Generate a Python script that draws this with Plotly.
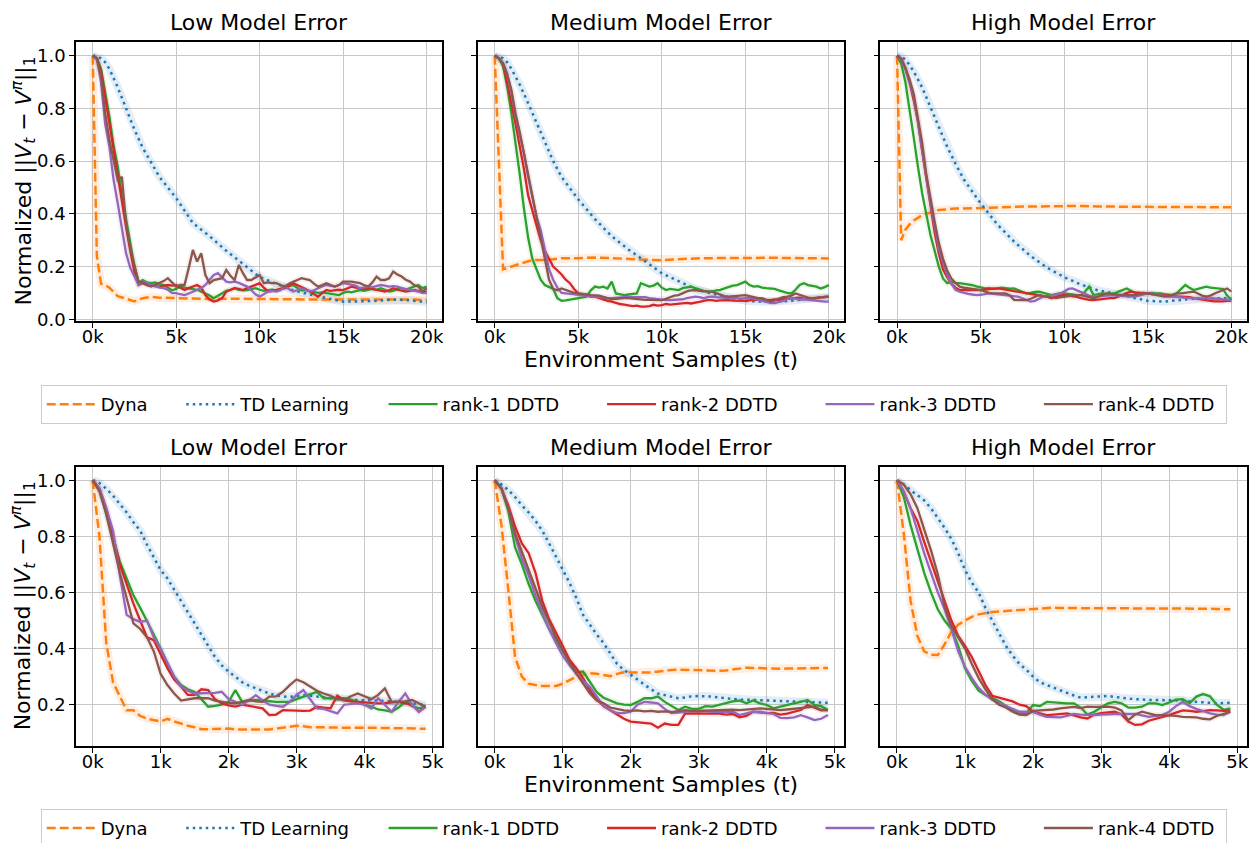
import plotly.graph_objects as go

FONT = "DejaVu Sans"
W, H = 1253, 843

# ---------------- x positions ----------------
X_TOP = list(range(0, 20001, 250))          # DDTD curves, 20k-sample runs
X_TOP_S = [0, 250, 500, 750, 1000, 1500, 2000, 2500, 3000, 3500, 4000, 5000, 6000, 7000,
           8000, 9000, 10000, 11000, 12000, 13000, 14000, 15000, 16000, 17000, 18000, 19000, 20000]
X_BOT = list(range(0, 4901, 100))           # 5k-sample runs

TOP_TICKS = [0, 5000, 10000, 15000, 20000]
TOP_TICKTEXT = ["0k", "5k", "10k", "15k", "20k"]
BOT_TICKS = [0, 1000, 2000, 3000, 4000, 5000]
BOT_TICKTEXT = ["0k", "1k", "2k", "3k", "4k", "5k"]
Y_TICKS = [0.0, 0.2, 0.4, 0.6, 0.8, 1.0]

TITLES = ["Low Model Error", "Medium Model Error", "High Model Error"]
METHODS = ["Dyna", "TD Learning", "rank-1 DDTD", "rank-2 DDTD", "rank-3 DDTD", "rank-4 DDTD"]

# ---------------- top row (20k samples) ----------------
DYNA_LOW_20K = [1.0, 0.24, 0.135, 0.13, 0.12, 0.088, 0.078, 0.068, 0.08, 0.085, 0.082, 0.08, 0.08, 0.077,
                0.078, 0.078, 0.076, 0.077, 0.076, 0.075, 0.075, 0.074, 0.074, 0.075, 0.076, 0.075, 0.073]
TD_LOW_20K = [1.0, 0.998, 0.99, 0.975, 0.95, 0.88, 0.80, 0.72, 0.65, 0.595, 0.54, 0.46, 0.365, 0.315,
              0.26, 0.21, 0.16, 0.135, 0.11, 0.094, 0.08, 0.067, 0.068, 0.07, 0.075, 0.072, 0.065]
R1_LOW_20K = [1.0, 0.99, 0.95, 0.86, 0.77, 0.66, 0.58, 0.47,
              0.38, 0.28, 0.2, 0.14, 0.149, 0.14, 0.137, 0.14,
              0.133, 0.13, 0.12, 0.11, 0.115, 0.125, 0.12, 0.118,
              0.115, 0.112, 0.105, 0.099, 0.09, 0.08, 0.09, 0.1,
              0.108, 0.112, 0.118, 0.112, 0.11, 0.111, 0.115, 0.118,
              0.112, 0.108, 0.111, 0.112, 0.11, 0.115, 0.124, 0.128,
              0.13, 0.12, 0.11, 0.111, 0.108, 0.105, 0.1, 0.102,
              0.099, 0.097, 0.095, 0.092, 0.1, 0.105, 0.102, 0.108,
              0.111, 0.108, 0.111, 0.115, 0.112, 0.118, 0.112, 0.105,
              0.108, 0.115, 0.118, 0.112, 0.118, 0.125, 0.13, 0.118,
              0.124]
R2_LOW_20K = [1.0, 0.99, 0.94, 0.84, 0.75, 0.64, 0.55, 0.45,
              0.35, 0.26, 0.18, 0.13, 0.137, 0.13, 0.128, 0.125,
              0.124, 0.128, 0.13, 0.128, 0.13, 0.12, 0.111, 0.118,
              0.125, 0.13, 0.12, 0.092, 0.075, 0.067, 0.072, 0.08,
              0.105, 0.112, 0.118, 0.115, 0.111, 0.118, 0.124, 0.13,
              0.137, 0.12, 0.105, 0.108, 0.111, 0.115, 0.118, 0.125,
              0.137, 0.13, 0.124, 0.115, 0.105, 0.095, 0.086, 0.1,
              0.111, 0.108, 0.111, 0.112, 0.111, 0.118, 0.124, 0.12,
              0.118, 0.115, 0.118, 0.115, 0.111, 0.108, 0.105, 0.11,
              0.118, 0.112, 0.108, 0.105, 0.108, 0.111, 0.108, 0.105,
              0.105]
R3_LOW_20K = [1.0, 0.985, 0.9, 0.74, 0.655, 0.53, 0.44, 0.34,
              0.25, 0.195, 0.16, 0.13, 0.143, 0.138, 0.13, 0.125,
              0.12, 0.118, 0.112, 0.1, 0.099, 0.095, 0.092, 0.098,
              0.105, 0.11, 0.118, 0.13, 0.15, 0.168, 0.175, 0.16,
              0.143, 0.14, 0.143, 0.138, 0.13, 0.124, 0.11, 0.095,
              0.086, 0.095, 0.105, 0.108, 0.105, 0.11, 0.124, 0.115,
              0.105, 0.11, 0.118, 0.112, 0.105, 0.11, 0.118, 0.125,
              0.13, 0.127, 0.124, 0.13, 0.137, 0.134, 0.13, 0.128,
              0.118, 0.12, 0.124, 0.122, 0.125, 0.13, 0.128, 0.124,
              0.126, 0.124, 0.118, 0.115, 0.111, 0.108, 0.105, 0.1,
              0.099]
R4_LOW_20K = [1.0, 0.99, 0.92, 0.78, 0.68, 0.6, 0.528, 0.54,
              0.36, 0.27, 0.2, 0.14, 0.14, 0.13, 0.124, 0.13,
              0.137, 0.145, 0.156, 0.14, 0.124, 0.13, 0.13, 0.194,
              0.263, 0.219, 0.25, 0.168, 0.137, 0.149, 0.152, 0.156,
              0.187, 0.165, 0.149, 0.206, 0.175, 0.149, 0.149, 0.16,
              0.168, 0.137, 0.14, 0.137, 0.137, 0.13, 0.124, 0.135,
              0.143, 0.15, 0.156, 0.152, 0.149, 0.135, 0.124, 0.13,
              0.137, 0.13, 0.124, 0.13, 0.143, 0.143, 0.143, 0.14,
              0.137, 0.13, 0.124, 0.14, 0.162, 0.149, 0.149, 0.155,
              0.181, 0.17, 0.162, 0.15, 0.143, 0.13, 0.124, 0.105,
              0.118]

DYNA_MED_20K = [1.0, 0.58, 0.19, 0.195, 0.2, 0.21, 0.22, 0.225, 0.225, 0.228, 0.232, 0.232, 0.234, 0.232,
                0.228, 0.226, 0.224, 0.228, 0.231, 0.232, 0.233, 0.234, 0.233, 0.233, 0.232, 0.231, 0.231]
TD_MED_20K = [1.0, 0.998, 0.99, 0.975, 0.95, 0.89, 0.82, 0.745, 0.67, 0.6, 0.54, 0.455, 0.38, 0.315,
              0.265, 0.22, 0.175, 0.145, 0.115, 0.097, 0.083, 0.07, 0.067, 0.067, 0.072, 0.08, 0.085]
R1_MED_20K = [1.0, 0.99, 0.96, 0.88, 0.78, 0.67, 0.55, 0.42,
              0.31, 0.23, 0.187, 0.15, 0.13, 0.122, 0.115, 0.08,
              0.07, 0.072, 0.075, 0.078, 0.08, 0.082, 0.086, 0.11,
              0.124, 0.12, 0.124, 0.117, 0.143, 0.098, 0.095, 0.092,
              0.094, 0.096, 0.098, 0.137, 0.13, 0.124, 0.128, 0.137,
              0.12, 0.111, 0.115, 0.112, 0.111, 0.118, 0.12, 0.124,
              0.118, 0.112, 0.108, 0.106, 0.105, 0.11, 0.112, 0.117,
              0.122, 0.128, 0.13, 0.138, 0.143, 0.13, 0.124, 0.126,
              0.12, 0.118, 0.117, 0.115, 0.11, 0.105, 0.1, 0.098,
              0.112, 0.13, 0.137, 0.13, 0.128, 0.124, 0.117, 0.122,
              0.13]
R2_MED_20K = [1.0, 0.99, 0.97, 0.9, 0.82, 0.74, 0.66, 0.57,
              0.47, 0.41, 0.35, 0.3, 0.26, 0.23, 0.2, 0.185,
              0.17, 0.15, 0.137, 0.115, 0.098, 0.095, 0.09, 0.086,
              0.086, 0.08, 0.075, 0.07, 0.067, 0.062, 0.058, 0.056,
              0.054, 0.05, 0.052, 0.048, 0.048, 0.05, 0.055, 0.052,
              0.054, 0.058, 0.056, 0.058, 0.058, 0.06, 0.062, 0.06,
              0.062, 0.066, 0.07, 0.073, 0.073, 0.07, 0.072, 0.073,
              0.073, 0.071, 0.07, 0.07, 0.07, 0.072, 0.073, 0.075,
              0.073, 0.072, 0.073, 0.075, 0.073, 0.076, 0.078, 0.08,
              0.08, 0.082, 0.078, 0.076, 0.076, 0.08, 0.083, 0.085,
              0.086]
R3_MED_20K = [1.0, 0.99, 0.97, 0.93, 0.86, 0.77, 0.7, 0.63,
              0.54, 0.47, 0.39, 0.34, 0.26, 0.19, 0.15, 0.12,
              0.1, 0.098, 0.096, 0.094, 0.092, 0.09, 0.088, 0.086,
              0.085, 0.084, 0.082, 0.08, 0.08, 0.082, 0.083, 0.084,
              0.084, 0.085, 0.084, 0.084, 0.084, 0.08, 0.078, 0.075,
              0.074, 0.073, 0.073, 0.074, 0.073, 0.076, 0.08, 0.084,
              0.086, 0.084, 0.08, 0.084, 0.086, 0.084, 0.082, 0.08,
              0.08, 0.082, 0.08, 0.078, 0.08, 0.082, 0.078, 0.073,
              0.07, 0.066, 0.062, 0.061, 0.065, 0.07, 0.076, 0.08,
              0.078, 0.075, 0.076, 0.074, 0.072, 0.07, 0.068, 0.067,
              0.067]
R4_MED_20K = [1.0, 0.99, 0.97, 0.93, 0.87, 0.78, 0.71, 0.63,
              0.54, 0.46, 0.38, 0.3, 0.22, 0.15, 0.115, 0.11,
              0.117, 0.112, 0.105, 0.1, 0.098, 0.095, 0.094, 0.092,
              0.092, 0.09, 0.085, 0.08, 0.076, 0.078, 0.08, 0.08,
              0.08, 0.078, 0.076, 0.075, 0.074, 0.074, 0.073, 0.073,
              0.073, 0.078, 0.085, 0.09, 0.092, 0.1, 0.106, 0.11,
              0.111, 0.108, 0.106, 0.105, 0.105, 0.1, 0.094, 0.088,
              0.086, 0.088, 0.09, 0.092, 0.092, 0.088, 0.084, 0.08,
              0.08, 0.074, 0.067, 0.072, 0.078, 0.084, 0.086, 0.09,
              0.098, 0.092, 0.086, 0.082, 0.08, 0.082, 0.084, 0.086,
              0.086]

DYNA_HIGH_20K = [1.0, 0.3, 0.34, 0.36, 0.375, 0.395, 0.405, 0.415, 0.417, 0.42, 0.42, 0.421, 0.424, 0.427,
                 0.428, 0.43, 0.43, 0.43, 0.428, 0.427, 0.427, 0.427, 0.426, 0.426, 0.426, 0.425, 0.425]
TD_HIGH_20K = [1.0, 0.998, 0.985, 0.965, 0.94, 0.88, 0.805, 0.73, 0.655, 0.59, 0.53, 0.44, 0.36, 0.295,
               0.24, 0.195, 0.16, 0.132, 0.11, 0.098, 0.085, 0.07, 0.067, 0.073, 0.08, 0.08, 0.08]
R1_HIGH_20K = [1.0, 0.97, 0.9, 0.8, 0.69, 0.58, 0.48, 0.4,
               0.32, 0.26, 0.2, 0.155, 0.137, 0.143, 0.138, 0.137,
               0.135, 0.132, 0.13, 0.125, 0.12, 0.117, 0.118, 0.116,
               0.117, 0.12, 0.118, 0.116, 0.117, 0.11, 0.104, 0.098,
               0.1, 0.104, 0.105, 0.1, 0.095, 0.092, 0.095, 0.098,
               0.098, 0.095, 0.094, 0.092, 0.092, 0.105, 0.124, 0.092,
               0.095, 0.098, 0.096, 0.098, 0.098, 0.105, 0.112, 0.117,
               0.108, 0.1, 0.098, 0.1, 0.098, 0.1, 0.098, 0.098,
               0.095, 0.094, 0.092, 0.1, 0.115, 0.13, 0.12, 0.111,
               0.115, 0.12, 0.124, 0.12, 0.118, 0.117, 0.115, 0.09,
               0.073]
R2_HIGH_20K = [1.0, 0.985, 0.95, 0.9, 0.83, 0.75, 0.64, 0.53,
               0.42, 0.33, 0.25, 0.19, 0.16, 0.135, 0.12, 0.111,
               0.112, 0.11, 0.112, 0.111, 0.111, 0.113, 0.115, 0.116,
               0.117, 0.115, 0.112, 0.11, 0.108, 0.105, 0.1, 0.098,
               0.096, 0.094, 0.092, 0.088, 0.085, 0.08, 0.085, 0.09,
               0.092, 0.09, 0.088, 0.085, 0.08, 0.076, 0.074, 0.073,
               0.075, 0.078, 0.08, 0.08, 0.08, 0.085, 0.092, 0.1,
               0.105, 0.102, 0.1, 0.098, 0.098, 0.096, 0.095, 0.094,
               0.092, 0.09, 0.088, 0.087, 0.086, 0.086, 0.084, 0.08,
               0.077, 0.075, 0.073, 0.07, 0.068, 0.067, 0.068, 0.07,
               0.07]
R3_HIGH_20K = [1.0, 0.985, 0.95, 0.9, 0.845, 0.75, 0.64, 0.54,
               0.44, 0.355, 0.27, 0.215, 0.17, 0.135, 0.112, 0.105,
               0.1, 0.096, 0.094, 0.092, 0.093, 0.095, 0.098, 0.096,
               0.094, 0.092, 0.092, 0.09, 0.088, 0.086, 0.08, 0.072,
               0.067, 0.07, 0.078, 0.086, 0.088, 0.09, 0.095, 0.098,
               0.105, 0.115, 0.117, 0.11, 0.105, 0.098, 0.09, 0.086,
               0.086, 0.088, 0.09, 0.092, 0.092, 0.09, 0.088, 0.086,
               0.086, 0.086, 0.09, 0.094, 0.098, 0.098, 0.095, 0.09,
               0.088, 0.086, 0.086, 0.084, 0.082, 0.08, 0.08, 0.08,
               0.08, 0.08, 0.08, 0.08, 0.08, 0.078, 0.076, 0.074,
               0.073]
R4_HIGH_20K = [1.0, 0.99, 0.955, 0.91, 0.855, 0.77, 0.67, 0.55,
               0.455, 0.37, 0.29, 0.23, 0.185, 0.155, 0.138, 0.124,
               0.12, 0.118, 0.115, 0.112, 0.111, 0.106, 0.1, 0.098,
               0.098, 0.098, 0.098, 0.09, 0.074, 0.073, 0.073, 0.073,
               0.078, 0.085, 0.092, 0.088, 0.085, 0.082, 0.08, 0.083,
               0.086, 0.088, 0.09, 0.092, 0.092, 0.088, 0.084, 0.08,
               0.085, 0.09, 0.098, 0.096, 0.094, 0.092, 0.092, 0.092,
               0.092, 0.092, 0.095, 0.098, 0.098, 0.095, 0.092, 0.09,
               0.086, 0.088, 0.092, 0.098, 0.098, 0.1, 0.103, 0.105,
               0.098, 0.09, 0.086, 0.09, 0.098, 0.105, 0.112, 0.117,
               0.105]

# ---------------- bottom row (5k samples) ----------------
DYNA_LOW_5K = [1.0, 0.8, 0.42, 0.28, 0.23, 0.18, 0.18, 0.16, 0.15, 0.145,
               0.14, 0.15, 0.14, 0.133, 0.125, 0.12, 0.113, 0.113, 0.113, 0.115,
               0.115, 0.112, 0.112, 0.11, 0.11, 0.11, 0.112, 0.115, 0.118, 0.12,
               0.125, 0.123, 0.12, 0.12, 0.119, 0.118, 0.118, 0.118, 0.118, 0.117,
               0.118, 0.118, 0.117, 0.117, 0.116, 0.116, 0.116, 0.115, 0.115, 0.114]
TD_LOW_5K = [1.0, 0.99, 0.97, 0.945, 0.915, 0.885, 0.85, 0.82, 0.77, 0.725,
             0.68, 0.65, 0.61, 0.57, 0.53, 0.49, 0.445, 0.405, 0.37, 0.34,
             0.318, 0.3, 0.28, 0.268, 0.258, 0.25, 0.24, 0.233, 0.229, 0.228,
             0.23, 0.234, 0.232, 0.229, 0.226, 0.222, 0.219, 0.217, 0.217, 0.217,
             0.217, 0.217, 0.215, 0.213, 0.212, 0.21, 0.207, 0.205, 0.202, 0.2]
R1_LOW_5K = [1.0, 0.97, 0.88, 0.79, 0.71, 0.65, 0.59, 0.545, 0.5, 0.45,
             0.4, 0.345, 0.3, 0.27, 0.255, 0.245, 0.22, 0.193, 0.196, 0.2,
             0.21, 0.252, 0.21, 0.213, 0.217, 0.215, 0.212, 0.21, 0.21, 0.21,
             0.22, 0.229, 0.238, 0.246, 0.223, 0.222, 0.223, 0.223, 0.218, 0.21,
             0.2, 0.193, 0.183, 0.18, 0.175, 0.19, 0.21, 0.195, 0.187, 0.193]
R2_LOW_5K = [1.0, 0.97, 0.9, 0.8, 0.7, 0.63, 0.56, 0.5, 0.44, 0.43,
             0.38, 0.33, 0.29, 0.265, 0.235, 0.235, 0.255, 0.252, 0.22, 0.205,
             0.198, 0.193, 0.2, 0.195, 0.19, 0.187, 0.163, 0.165, 0.181, 0.18,
             0.178, 0.178, 0.179, 0.193, 0.19, 0.187, 0.232, 0.215, 0.212, 0.21,
             0.208, 0.207, 0.205, 0.206, 0.208, 0.21, 0.205, 0.2, 0.175, 0.193]
R3_LOW_5K = [1.0, 0.97, 0.9, 0.82, 0.66, 0.52, 0.505, 0.495, 0.5, 0.44,
             0.4, 0.35, 0.3, 0.265, 0.25, 0.24, 0.24, 0.24, 0.242, 0.246,
             0.22, 0.21, 0.2, 0.215, 0.234, 0.215, 0.2, 0.196, 0.193, 0.21,
             0.235, 0.252, 0.22, 0.187, 0.185, 0.178, 0.169, 0.2, 0.203, 0.205,
             0.2, 0.187, 0.223, 0.2, 0.175, 0.21, 0.24, 0.2, 0.175, 0.193]
R4_LOW_5K = [1.0, 0.96, 0.88, 0.77, 0.67, 0.58, 0.49, 0.47, 0.44, 0.39,
             0.31, 0.27, 0.24, 0.215, 0.218, 0.223, 0.223, 0.223, 0.215, 0.21,
             0.207, 0.205, 0.21, 0.217, 0.212, 0.21, 0.229, 0.23, 0.246, 0.27,
             0.29, 0.28, 0.265, 0.25, 0.24, 0.232, 0.22, 0.217, 0.23, 0.24,
             0.23, 0.22, 0.235, 0.258, 0.21, 0.21, 0.212, 0.217, 0.205, 0.193]

DYNA_MED_5K = [1.0, 0.84, 0.61, 0.37, 0.3, 0.275, 0.27, 0.267, 0.267, 0.267,
               0.275, 0.288, 0.3, 0.308, 0.312, 0.31, 0.306, 0.302, 0.31, 0.316,
               0.315, 0.316, 0.315, 0.315, 0.318, 0.322, 0.324, 0.325, 0.324, 0.324,
               0.324, 0.323, 0.321, 0.321, 0.322, 0.326, 0.33, 0.332, 0.331, 0.33,
               0.329, 0.329, 0.328, 0.329, 0.329, 0.329, 0.33, 0.33, 0.33, 0.331]
TD_MED_5K = [1.0, 0.985, 0.965, 0.94, 0.91, 0.885, 0.855, 0.82, 0.775, 0.73,
             0.68, 0.635, 0.58, 0.52, 0.485, 0.45, 0.42, 0.38, 0.345, 0.324,
             0.306, 0.29, 0.27, 0.255, 0.24, 0.235, 0.228, 0.223, 0.226, 0.23,
             0.231, 0.231, 0.229, 0.226, 0.223, 0.22, 0.218, 0.218, 0.217, 0.217,
             0.216, 0.215, 0.214, 0.213, 0.212, 0.21, 0.21, 0.209, 0.208, 0.207]
R1_MED_5K = [1.0, 0.97, 0.89, 0.76, 0.7, 0.63, 0.57, 0.52, 0.47, 0.43,
             0.39, 0.35, 0.315, 0.318, 0.28, 0.245, 0.225, 0.215, 0.205, 0.2,
             0.199, 0.21, 0.223, 0.223, 0.229, 0.21, 0.195, 0.181, 0.193, 0.185,
             0.185, 0.195, 0.193, 0.2, 0.205, 0.212, 0.215, 0.205, 0.215, 0.205,
             0.199, 0.187, 0.193, 0.2, 0.205, 0.21, 0.217, 0.199, 0.195, 0.181]
R2_MED_5K = [1.0, 0.97, 0.91, 0.835, 0.775, 0.74, 0.67, 0.57, 0.505, 0.46,
             0.41, 0.36, 0.33, 0.295, 0.252, 0.22, 0.195, 0.18, 0.165, 0.15,
             0.14, 0.137, 0.135, 0.133, 0.118, 0.133, 0.128, 0.128, 0.169, 0.169,
             0.168, 0.169, 0.169, 0.168, 0.165, 0.167, 0.155, 0.16, 0.175, 0.172,
             0.17, 0.171, 0.165, 0.168, 0.175, 0.181, 0.199, 0.19, 0.18, 0.181]
R3_MED_5K = [1.0, 0.97, 0.9, 0.8, 0.72, 0.66, 0.59, 0.53, 0.47, 0.42,
             0.375, 0.34, 0.31, 0.285, 0.264, 0.23, 0.195, 0.18, 0.17, 0.17,
             0.175, 0.2, 0.21, 0.208, 0.205, 0.185, 0.17, 0.172, 0.175, 0.178,
             0.18, 0.178, 0.175, 0.175, 0.175, 0.175, 0.163, 0.17, 0.175, 0.175,
             0.17, 0.167, 0.153, 0.152, 0.155, 0.163, 0.155, 0.145, 0.15, 0.163]
R4_MED_5K = [1.0, 0.97, 0.9, 0.81, 0.745, 0.68, 0.61, 0.55, 0.495, 0.44,
             0.395, 0.35, 0.312, 0.275, 0.24, 0.215, 0.205, 0.19, 0.185, 0.18,
             0.178, 0.18, 0.176, 0.178, 0.175, 0.176, 0.174, 0.178, 0.181, 0.178,
             0.176, 0.179, 0.18, 0.18, 0.181, 0.182, 0.181, 0.183, 0.186, 0.187,
             0.185, 0.183, 0.181, 0.183, 0.185, 0.187, 0.19, 0.193, 0.182, 0.181]

DYNA_HIGH_5K = [1.0, 0.81, 0.57, 0.445, 0.39, 0.378, 0.377, 0.415, 0.46, 0.485,
                0.5, 0.513, 0.522, 0.527, 0.53, 0.532, 0.534, 0.536, 0.537, 0.539,
                0.54, 0.542, 0.546, 0.546, 0.545, 0.544, 0.544, 0.544, 0.544, 0.544,
                0.544, 0.544, 0.544, 0.544, 0.544, 0.544, 0.544, 0.544, 0.544, 0.544,
                0.544, 0.543, 0.543, 0.543, 0.542, 0.542, 0.542, 0.541, 0.541, 0.54]
TD_HIGH_5K = [1.0, 0.985, 0.965, 0.945, 0.928, 0.9, 0.865, 0.83, 0.79, 0.74,
              0.68, 0.635, 0.6, 0.545, 0.5, 0.455, 0.41, 0.375, 0.345, 0.325,
              0.3, 0.28, 0.27, 0.26, 0.25, 0.242, 0.233, 0.225, 0.227, 0.229,
              0.23, 0.231, 0.228, 0.224, 0.222, 0.22, 0.218, 0.217, 0.217, 0.217,
              0.217, 0.217, 0.215, 0.212, 0.21, 0.207, 0.205, 0.205, 0.206, 0.207]
R1_HIGH_5K = [1.0, 0.94, 0.84, 0.755, 0.67, 0.6, 0.54, 0.5, 0.47, 0.41,
              0.33, 0.285, 0.25, 0.235, 0.225, 0.212, 0.195, 0.18, 0.17, 0.17,
              0.199, 0.195, 0.21, 0.208, 0.205, 0.205, 0.205, 0.19, 0.165, 0.175,
              0.19, 0.205, 0.21, 0.205, 0.19, 0.19, 0.193, 0.205, 0.205, 0.199,
              0.208, 0.218, 0.22, 0.205, 0.229, 0.238, 0.23, 0.2, 0.182, 0.187]
R2_HIGH_5K = [1.0, 0.96, 0.9, 0.855, 0.78, 0.71, 0.645, 0.57, 0.5, 0.445,
              0.41, 0.37, 0.32, 0.27, 0.232, 0.225, 0.22, 0.212, 0.2, 0.195,
              0.175, 0.17, 0.163, 0.165, 0.168, 0.169, 0.162, 0.155, 0.151, 0.165,
              0.17, 0.172, 0.175, 0.165, 0.14, 0.128, 0.13, 0.143, 0.15, 0.155,
              0.163, 0.172, 0.18, 0.178, 0.175, 0.177, 0.181, 0.18, 0.178, 0.179]
R3_HIGH_5K = [1.0, 0.96, 0.9, 0.82, 0.74, 0.67, 0.6, 0.54, 0.47, 0.39,
              0.335, 0.295, 0.26, 0.235, 0.218, 0.207, 0.195, 0.185, 0.175, 0.175,
              0.174, 0.165, 0.157, 0.156, 0.155, 0.16, 0.167, 0.165, 0.163, 0.163,
              0.165, 0.167, 0.167, 0.167, 0.167, 0.167, 0.162, 0.157, 0.16, 0.163,
              0.175, 0.195, 0.21, 0.195, 0.185, 0.177, 0.169, 0.165, 0.163, 0.175]
R4_HIGH_5K = [1.0, 0.985, 0.95, 0.9, 0.825, 0.75, 0.665, 0.55, 0.48, 0.44,
              0.4, 0.345, 0.295, 0.255, 0.22, 0.2, 0.19, 0.175, 0.165, 0.163,
              0.178, 0.18, 0.181, 0.183, 0.187, 0.19, 0.192, 0.188, 0.193, 0.192,
              0.193, 0.193, 0.19, 0.18, 0.145, 0.165, 0.175, 0.17, 0.163, 0.163,
              0.162, 0.16, 0.157, 0.156, 0.155, 0.15, 0.148, 0.16, 0.168, 0.175]

# ---------------- styles ----------------
COLORS = {"Dyna": "#ff7f0e", "TD Learning": "#1f77b4", "rank-1 DDTD": "#2ca02c",
          "rank-2 DDTD": "#d62728", "rank-3 DDTD": "#9467bd", "rank-4 DDTD": "#8c564b"}
DASHES = {"Dyna": "9px,4px", "TD Learning": "2.5px,4px"}
# trailing spacing in legend labels (mimics matplotlib column widths)
NBSP = "\u00a0"
LEGEND_PAD = {"Dyna": NBSP * 5, "TD Learning": NBSP * 5, "rank-1 DDTD": NBSP * 6 + "\u2009",
              "rank-2 DDTD": NBSP * 6 + "\u2009", "rank-3 DDTD": NBSP * 6 + "\u2009",
              "rank-4 DDTD": NBSP * 1}


def rgba(hexc, a):
    h = hexc.lstrip("#")
    return "rgba(%d,%d,%d,%.3f)" % (int(h[0:2], 16), int(h[2:4], 16), int(h[4:6], 16), a)


TOP_PANELS = [
    [DYNA_LOW_20K, TD_LOW_20K, R1_LOW_20K, R2_LOW_20K, R3_LOW_20K, R4_LOW_20K],
    [DYNA_MED_20K, TD_MED_20K, R1_MED_20K, R2_MED_20K, R3_MED_20K, R4_MED_20K],
    [DYNA_HIGH_20K, TD_HIGH_20K, R1_HIGH_20K, R2_HIGH_20K, R3_HIGH_20K, R4_HIGH_20K],
]
BOT_PANELS = [
    [DYNA_LOW_5K, TD_LOW_5K, R1_LOW_5K, R2_LOW_5K, R3_LOW_5K, R4_LOW_5K],
    [DYNA_MED_5K, TD_MED_5K, R1_MED_5K, R2_MED_5K, R3_MED_5K, R4_MED_5K],
    [DYNA_HIGH_5K, TD_HIGH_5K, R1_HIGH_5K, R2_HIGH_5K, R3_HIGH_5K, R4_HIGH_5K],
]

# layout geometry (pixels)
XD_PX = [(76, 442), (478, 844.3), (880.3, 1246.7)]
YD_TOP_PX = (42, 321)
YD_BOT_PX = (467, 745.7)

fig = go.Figure()


def add_panel(idx, series, xs_main, xs_smooth, legend_name, show_legend):
    ax = "" if idx == 1 else str(idx)
    xref, yref = "x" + ax, "y" + ax
    # translucent halos (spread bands) first
    for m, ys in zip(METHODS, series):
        xs = xs_smooth if (m in ("Dyna", "TD Learning") and xs_smooth is not None) else xs_main
        big = m in ("Dyna", "TD Learning")
        fig.add_trace(go.Scatter(
            x=xs[:len(ys)], y=ys, mode="lines", xaxis=xref, yaxis=yref,
            line=dict(color=rgba(COLORS[m], 0.13 if big else 0.08), width=8 if big else 6),
            showlegend=False, hoverinfo="skip"))
    for m, ys in zip(METHODS, series):
        xs = xs_smooth if (m in ("Dyna", "TD Learning") and xs_smooth is not None) else xs_main
        fig.add_trace(go.Scatter(
            x=xs[:len(ys)], y=ys, mode="lines", xaxis=xref, yaxis=yref, name=m + LEGEND_PAD[m],
            line=dict(color=COLORS[m], width=2.5 if m in DASHES else 2.3, dash=DASHES.get(m, "solid")),
            legend=legend_name, showlegend=show_legend))


for c in range(3):
    add_panel(c + 1, TOP_PANELS[c], X_TOP, X_TOP_S, "legend", c == 0)
for c in range(3):
    add_panel(c + 4, BOT_PANELS[c], X_BOT, None, "legend2", c == 0)

axis_common = dict(showline=True, linecolor="black", linewidth=1.6, mirror=True,
                   ticks="outside", ticklen=5, tickwidth=1.2, tickcolor="black",
                   showgrid=True, gridcolor="#c8c8c8", gridwidth=1, zeroline=False,
                   tickfont=dict(family=FONT, size=18, color="black"))

layout = dict(width=W, height=H, margin=dict(l=0, r=0, t=0, b=0, autoexpand=False),
              paper_bgcolor="white", plot_bgcolor="white",
              font=dict(family=FONT, size=18, color="black"))

for i in range(6):
    ax = "" if i == 0 else str(i + 1)
    col = i % 3
    top = i < 3
    x0, x1 = XD_PX[col]
    ypx = YD_TOP_PX if top else YD_BOT_PX
    layout["xaxis" + ax] = dict(axis_common, domain=[x0 / W, x1 / W], anchor="y" + ax,
                                range=[-1000, 20920] if top else [-245, 5140],
                                tickvals=TOP_TICKS if top else BOT_TICKS,
                                ticktext=TOP_TICKTEXT if top else BOT_TICKTEXT,
                                ticklabelstandoff=-6)
    layout["yaxis" + ax] = dict(axis_common, domain=[1 - ypx[1] / H, 1 - ypx[0] / H], anchor="x" + ax,
                                range=[-0.0065, 1.052] if top else [0.054, 1.047],
                                tickvals=Y_TICKS, ticktext=["%.1f" % v for v in Y_TICKS],
                                showticklabels=(col == 0))

legend_common = dict(orientation="h", xanchor="left", x=40.7 / W, yanchor="middle",
                     font=dict(family=FONT, size=18, color="black"), bgcolor="white",
                     bordercolor="#cccccc", borderwidth=1, itemwidth=49, traceorder="normal")
layout["legend"] = dict(legend_common, y=1 - 404.5 / H)
layout["legend2"] = dict(legend_common, y=1 - 828.3 / H)

annotations = []
for i in range(6):
    col = i % 3
    top = i < 3
    x0, x1 = XD_PX[col]
    ypx = YD_TOP_PX if top else YD_BOT_PX
    annotations.append(dict(text=TITLES[col], x=(x0 + x1) / 2 / W, y=1 - ypx[0] / H, xref="paper", yref="paper",
                            xanchor="center", yanchor="bottom", yshift=5, showarrow=False,
                            font=dict(family=FONT, size=22, color="black")))
    if col == 1:
        annotations.append(dict(text="Environment Samples (t)", x=(x0 + x1) / 2 / W, y=1 - ypx[1] / H,
                                xref="paper", yref="paper", xanchor="center", yanchor="top", yshift=-24,
                                showarrow=False, font=dict(family=FONT, size=22, color="black")))
    if col == 0:
        annotations.append(dict(text="Normalized ||<i>V</i><sub><i>t</i></sub> \u2212 <i>V</i><sup><i>\u03c0</i></sup>||<sub>1</sub>",
                                x=23 / W, y=1 - (ypx[0] + ypx[1]) / 2 / H, xref="paper", yref="paper",
                                xanchor="center", yanchor="middle", textangle=-90, showarrow=False,
                                font=dict(family=FONT, size=22, color="black")))
layout["annotations"] = annotations

fig.update_layout(**layout)
fig.write_html("out.html")
